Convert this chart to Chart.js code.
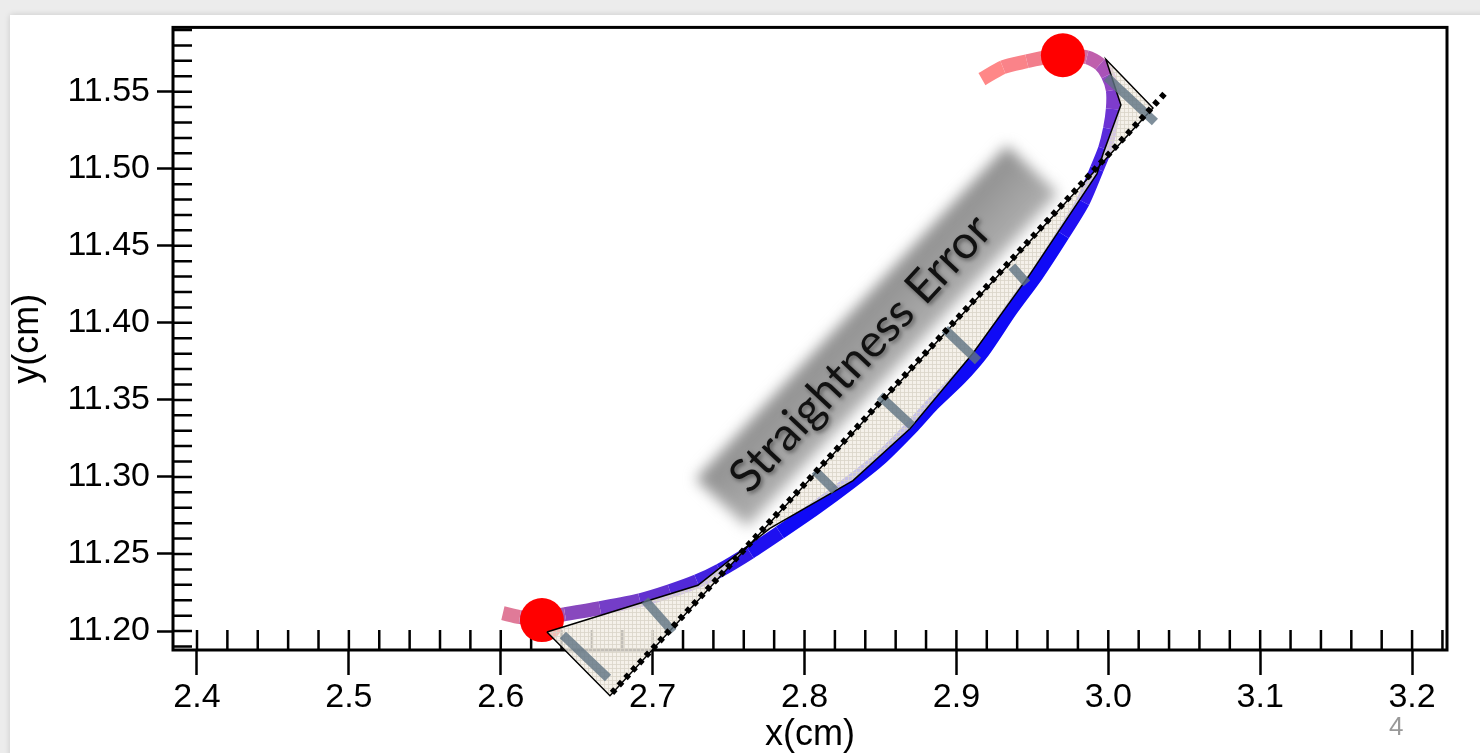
<!DOCTYPE html>
<html lang="en">
<head>
<meta charset="UTF-8">
<title>Straightness Error</title>
<script src="https://cdn.jsdelivr.net/npm/chart.js"></script>
<style>
  body { margin: 0; width: 1480px; height: 753px; overflow: hidden; position: relative; background: #ececec; }
  .slide { position: absolute; left: 10px; top: 15px; width: 1480px; height: 760px; background: #fff; box-shadow: 0 0 6px rgba(0,0,0,0.15); }
  #chart { position: absolute; left: 0; top: 0; }
  .page-num { position: absolute; left: 1389px; top: 711px; font: 26px 'Liberation Sans', Arial, sans-serif; color: #999; }
</style>
</head>
<body>
<div class="slide"></div>
<canvas id="chart" width="1480" height="753"></canvas>
<div class="page-num">4</div>
<script>
// pen path, from the top end to the bottom end
const pathX = [2.9168, 2.9306, 2.9464, 2.9583, 2.9701, 2.9859, 2.9945, 2.9997, 3.0030, 3.0030,
               3.0011, 2.9978, 2.9925, 2.9833, 2.9701, 2.9530, 2.9352, 2.9175, 2.9023, 2.8845,
               2.8714, 2.8496, 2.8299, 2.8068, 2.7838, 2.7641, 2.7443, 2.7292, 2.7114, 2.6916,
               2.6653, 2.6423, 2.6258, 2.6126, 2.6014];
const pathY = [11.5581, 11.5659, 11.5697, 11.5723, 11.5736, 11.5723, 11.5678, 11.5607, 11.5510, 11.5387,
               11.5258, 11.5129, 11.4999, 11.4786, 11.4573, 11.4314, 11.4075, 11.3816, 11.3642, 11.3474,
               11.3332, 11.3118, 11.2963, 11.2795, 11.2640, 11.2511, 11.2394, 11.2323, 11.2259, 11.2200,
               11.2149, 11.2110, 11.2084, 11.2090, 11.2116];
// colour of each path segment
const pathColors = ['#ff8787', '#fa8389', '#f27e8c', '#e97a92', '#d46ca0', '#bf5fac', '#a952b8', '#9246c3',
                    '#7e3ccc', '#6c33d4', '#5a2bdc', '#4722e4', '#3318ec', '#200ff2',
                    '#100af6', '#100af6', '#100af6', '#100af6', '#100af6', '#100af6', '#100af6', '#100af6',
                    '#100af6', '#100af6', '#1e10f0', '#3018e8', '#4222e0', '#5229d8', '#6232d0', '#743dc8',
                    '#8848be', '#9f54b5', '#bf63aa', '#e07a98'];

// start / end markers
const dotX = [2.6271, 2.9701];
const dotY = [11.2071, 11.5736];

// straight reference line
const chordX = [2.6732, 3.0392];
const chordY = [11.1599, 11.5510];

// shaded error region (closed)
const areaX = [2.6304, 2.7298, 2.7772, 2.8319, 2.8694, 2.9109, 2.9484, 2.9925, 2.9965, 3.0083, 2.9984, 3.0294, 2.6719, 2.6304];
const areaY = [11.1994, 11.2297, 11.2666, 11.2976, 11.3312, 11.3803, 11.4314, 11.4967, 11.5096, 11.5413, 11.5710, 11.5394, 11.1580, 11.1994];

// deviation bars
const errStartX = [2.6409, 2.6949, 2.8068, 2.8496, 2.8924, 2.9365, 2.9991];
const errStartY = [11.1974, 11.2200, 11.3041, 11.3526, 11.3959, 11.4366, 11.5594];
const errEndX   = [2.6706, 2.7134, 2.8200, 2.8707, 2.9142, 2.9464, 3.0307];
const errEndY   = [11.1696, 11.1994, 11.2911, 11.3332, 11.3752, 11.4256, 11.5303];

const xTicks = [2.4, 2.5, 2.6, 2.7, 2.8, 2.9, 3.0, 3.1, 3.2];
const yTicks = [11.20, 11.25, 11.30, 11.35, 11.40, 11.45, 11.50, 11.55];

const calloutText = 'Straightness Error';
const calloutX = 2.8477, calloutY = 11.3913, calloutAngle = -47;

const toPoints = (xs, ys) => xs.map((x, i) => ({x, y: ys[i]}));

const barData = [];
errStartX.forEach((x, i) => {
    barData.push({x, y: errStartY[i]}, {x: errEndX[i], y: errEndY[i]}, {x: null, y: null});
});

function linenPattern(ctx) {
    const c = document.createElement('canvas');
    c.width = c.height = 4;
    const p = c.getContext('2d');
    p.fillStyle = 'rgba(242,238,229,0.8)';
    p.fillRect(0, 0, 4, 4);
    p.fillStyle = 'rgba(218,212,200,0.8)';
    p.fillRect(0, 0, 4, 1);
    p.fillRect(0, 0, 1, 4);
    return ctx.createPattern(c, 'repeat');
}

// frame plus the inward minor ticks
const frameTicks = {
    id: 'frameTicks',
    beforeDatasetsDraw(chart) {
        const {ctx, chartArea: a, scales: {x, y}} = chart;
        ctx.save();
        ctx.strokeStyle = '#000';
        ctx.lineWidth = 2.5;
        ctx.beginPath();
        for (let i = 0; i <= 40; i++) {
            const py = y.getPixelForValue(11.19 + i * 0.01);
            if (py < a.top) break;
            ctx.moveTo(a.left, py);
            ctx.lineTo(a.left + 19, py);
        }
        for (let i = 0; i <= 41; i++) {
            const px = x.getPixelForValue(2.40 + i * 0.02);
            if (px > a.right) break;
            ctx.moveTo(px, a.bottom);
            ctx.lineTo(px, a.bottom - 20);
        }
        ctx.stroke();
        ctx.lineWidth = 3;
        ctx.strokeRect(a.left, a.top, a.right - a.left, a.bottom - a.top);
        ctx.restore();
    }
};

const callout = {
    id: 'callout',
    beforeDatasetsDraw(chart) {
        const {ctx, scales: {x, y}} = chart;
        ctx.save();
        ctx.translate(x.getPixelForValue(calloutX), y.getPixelForValue(calloutY));
        ctx.rotate(calloutAngle * Math.PI / 180);
        ctx.filter = 'blur(7px)';
        const g = ctx.createLinearGradient(0, -36, 0, 36);
        g.addColorStop(0, '#8e8e8e');
        g.addColorStop(1, '#b0b0b0');
        ctx.fillStyle = g;
        ctx.fillRect(-228, -35, 456, 70);
        ctx.filter = 'none';
        ctx.font = '46px Lato, "Open Sans", sans-serif';
        ctx.textAlign = 'center';
        ctx.textBaseline = 'middle';
        ctx.shadowColor = 'rgba(0,0,0,0.45)';
        ctx.shadowBlur = 4;
        ctx.shadowOffsetX = 2;
        ctx.shadowOffsetY = 2;
        ctx.fillStyle = '#111';
        ctx.fillText(calloutText, -24, 0);
        ctx.restore();
    }
};

const areaFill = {
    id: 'areaFill',
    beforeDatasetDraw(chart, args) {
        if (args.index !== 2) return;
        const ctx = chart.ctx;
        ctx.save();
        ctx.beginPath();
        args.meta.data.forEach((p, i) => i ? ctx.lineTo(p.x, p.y) : ctx.moveTo(p.x, p.y));
        ctx.closePath();
        ctx.fillStyle = linenPattern(ctx);
        ctx.fill();
        ctx.restore();
    }
};

Chart.defaults.font.family = "'Liberation Sans', Arial, sans-serif";
Chart.defaults.color = '#000';

new Chart(document.getElementById('chart'), {
    type: 'scatter',
    data: {
        datasets: [
            {   // dotted straight line
                data: toPoints(chordX, chordY),
                showLine: true, borderColor: '#000', borderWidth: 6, borderDash: [5, 5],
                borderCapStyle: 'butt', pointRadius: 0, clip: false
            },
            {   // deviation bars
                data: barData,
                showLine: true, spanGaps: false, borderColor: 'rgba(95,115,130,0.8)', borderWidth: 9,
                borderCapStyle: 'butt', pointRadius: 0, clip: false
            },
            {   // error region outline
                data: toPoints(areaX, areaY),
                showLine: true, borderColor: '#000', borderWidth: 1.5, pointRadius: 0, clip: false
            },
            {   // start / end markers
                data: toPoints(dotX, dotY),
                showLine: false, pointRadius: 22, pointBackgroundColor: '#ff0000', pointBorderWidth: 0, clip: false
            },
            {   // pen path
                data: toPoints(pathX, pathY),
                showLine: true, borderWidth: 14, borderCapStyle: 'butt', tension: 0.25, pointRadius: 0,
                borderColor: '#100af6',
                segment: { borderColor: c => pathColors[c.p0DataIndex] },
                clip: false
            }
        ]
    },
    options: {
        responsive: false,
        animation: false,
        events: [],
        layout: { padding: { left: 0, top: 25, right: 33, bottom: 0 } },
        plugins: { legend: { display: false }, tooltip: { enabled: false } },
        scales: {
            x: {
                type: 'linear', position: 'bottom', min: 2.3842, max: 3.2230,
                afterBuildTicks: s => { s.ticks = xTicks.map(v => ({value: v})); },
                afterFit: s => { s.height = 103; },
                ticks: { font: { size: 34 }, padding: 2, autoSkip: false, maxRotation: 0,
                         callback: v => v.toFixed(1) },
                grid: { drawOnChartArea: false, tickLength: 25, tickWidth: 2.5, tickColor: '#000' },
                border: { display: false },
                title: { display: true, text: 'x(cm)', font: { size: 36, lineHeight: 1 }, padding: 0 }
            },
            y: {
                type: 'linear', position: 'left', min: 11.1877, max: 11.5917,
                afterBuildTicks: s => { s.ticks = yTicks.map(v => ({value: v})); },
                afterFit: s => { s.width = 173; },
                ticks: { font: { size: 34 }, padding: 7, autoSkip: false,
                         callback: v => v.toFixed(2) },
                grid: { drawOnChartArea: false, tickLength: 16, tickWidth: 2.5, tickColor: '#000' },
                border: { display: false },
                title: { display: true, text: 'y(cm)', font: { size: 36, lineHeight: 1 }, padding: { top: 10, bottom: 0 } }
            }
        }
    },
    plugins: [frameTicks, callout, areaFill]
});
</script>
</body>
</html>
